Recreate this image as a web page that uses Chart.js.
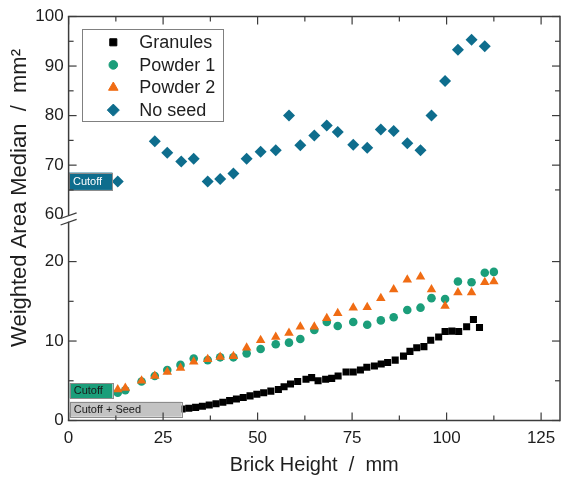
<!DOCTYPE html>
<html><head><meta charset="utf-8">
<script src="https://cdn.jsdelivr.net/npm/chart.js@4/dist/chart.umd.min.js"></script>
<style>html,body{margin:0;padding:0;background:#fff;}#wrap{width:566px;height:477px;}</style>
</head><body><div id="wrap"><canvas id="c" width="566" height="477"></canvas></div>
<script>
// ---- data ----
const xTicks = [0, 25, 50, 75, 100, 125];
const xMinor = [12.5, 37.5, 62.5, 87.5, 112.5];
const yLowTicks = [0, 10, 20];
const yLowMinor = [5, 15];
const yHighTicks = [60, 70, 80, 90, 100];
const yHighMinor = [65, 75, 85, 95];
const seriesNames = ['Granules', 'Powder 1', 'Powder 2', 'No seed'];

const granulesX = [30.0, 31.8, 33.6, 35.4, 37.2, 39.0, 40.8, 42.6, 44.4, 46.2, 48.0, 49.8, 51.6, 53.5, 55.5, 57.0, 58.7, 60.6, 62.8, 64.3, 66.0, 68.0, 69.6, 71.3, 73.4, 75.3, 77.2, 78.9, 80.9, 82.7, 84.4, 86.4, 88.6, 90.3, 92.1, 94.0, 95.8, 97.9, 99.6, 101.4, 103.2, 105.3, 107.1, 108.7];
const granulesY = [1.45, 1.55, 1.65, 1.8, 1.95, 2.1, 2.3, 2.5, 2.7, 2.9, 3.1, 3.3, 3.5, 3.7, 3.9, 4.25, 4.6, 4.9, 5.2, 5.4, 5.0, 5.2, 5.3, 5.6, 6.1, 6.1, 6.35, 6.7, 6.85, 7.1, 7.3, 7.6, 8.1, 8.7, 9.15, 9.3, 10.1, 10.5, 11.2, 11.25, 11.2, 11.8, 12.7, 11.7];

const powderX = [13.0, 15.0, 19.3, 22.8, 26.1, 29.6, 33.1, 36.8, 40.1, 43.6, 47.1, 50.8, 54.8, 58.3, 61.3, 65.0, 68.3, 71.2, 75.3, 79.0, 82.6, 86.0, 89.6, 93.1, 96.0, 99.6, 103.0, 106.6, 110.1, 112.5];
const powder1Y = [3.5, 3.8, 4.9, 5.6, 6.35, 7.0, 7.8, 7.6, 7.95, 7.95, 8.45, 9.0, 9.6, 9.8, 10.25, 11.4, 12.4, 11.9, 12.4, 12.05, 12.6, 13.0, 13.9, 14.2, 15.4, 15.3, 17.5, 17.4, 18.6, 18.7];
const powder2Y = [3.9, 4.1, 5.0, 5.6, 6.1, 6.6, 7.4, 7.7, 8.0, 8.1, 9.15, 10.1, 10.5, 11.0, 11.8, 11.8, 12.86, 13.5, 14.2, 14.25, 15.4, 16.5, 17.7, 18.1, 16.5, 14.4, 16.1, 16.1, 17.4, 17.5];

const noSeedX = [13.0, 22.8, 26.1, 29.8, 33.1, 36.8, 40.1, 43.6, 47.1, 50.8, 54.8, 58.3, 61.3, 65.0, 68.3, 71.2, 75.3, 79.0, 82.6, 86.0, 89.6, 93.1, 96.0, 99.6, 103.0, 106.6, 110.1];
const noSeedY = [66.7, 74.8, 72.5, 70.75, 71.3, 66.7, 67.2, 68.3, 71.3, 72.7, 73.0, 80.0, 74.0, 76.0, 78.0, 76.7, 74.1, 73.5, 77.2, 76.9, 74.4, 73.0, 80.0, 87.0, 93.3, 95.3, 94.0];

// ---- styles ----
const COL = {gran: '#000000', p1: '#1b9e7a', p2: '#f06c14', ns: '#0e6d8d', axis: '#3c3c3c', text: '#1e1e1e'};
const FONT = '"Liberation Sans", Arial, sans-serif';
Chart.defaults.font.family = FONT;
Chart.defaults.color = COL.text;

const pts = (xs, ys) => xs.map((x, i) => ({x, y: ys[i]}));

const annotations = [
  {text: 'Cutoff', axis: 'yHigh', x0: 0.1, x1: 11.6, y0: 68.5, y1: 65.0, fill: COL.ns, color: '#ffffff'},
  {text: 'Cutoff', axis: 'yLow', x0: 0.3, x1: 11.6, y0: 4.7, y1: 2.8, fill: COL.p1, color: '#1a1a1a'},
  {text: 'Cutoff + Seed', axis: 'yLow', x0: 0.3, x1: 29.9, y0: 2.36, y1: 0.48, fill: '#c3c3c3', color: '#1a1a1a'}
];

function drawMarker(ctx, style, x, y, r, color) {
  ctx.save();
  ctx.fillStyle = color; ctx.strokeStyle = color; ctx.lineWidth = 1;
  if (Chart.helpers && Chart.helpers.drawPoint) {
    Chart.helpers.drawPoint(ctx, {pointStyle: style, radius: r, rotation: 0, borderWidth: 1}, x, y);
  }
  ctx.restore();
}

const framePlugin = {
  id: 'frame',
  afterDatasetsDraw(chart) {
    const ctx = chart.ctx, a = chart.chartArea;
    const sx = chart.scales.x, sl = chart.scales.yLow, sh = chart.scales.yHigh;
    const L = a.left, R = a.right, T = a.top, B = a.bottom;
    ctx.save();
    // annotation boxes
    ctx.font = '11px ' + FONT;
    ctx.textBaseline = 'middle';
    ctx.textAlign = 'left';
    annotations.forEach(an => {
      const s = an.axis === 'yLow' ? sl : sh;
      const x0 = sx.getPixelForValue(an.x0), x1 = sx.getPixelForValue(an.x1);
      const y0 = s.getPixelForValue(an.y0), y1 = s.getPixelForValue(an.y1);
      ctx.fillStyle = an.fill;
      ctx.fillRect(x0, y0, x1 - x0, y1 - y0);
      ctx.strokeStyle = '#8c8c8c'; ctx.lineWidth = 1;
      ctx.strokeRect(Math.round(x0) + 0.5, Math.round(y0) + 0.5, Math.round(x1 - x0), Math.round(y1 - y0));
      ctx.fillStyle = an.color;
      ctx.fillText(an.text, x0 + 4, (y0 + y1) / 2 + 0.5);
    });
    // frame
    const brk = sh.getPixelForValue(60);
    ctx.strokeStyle = COL.axis; ctx.lineWidth = 1.5; ctx.lineCap = 'butt';
    const line = (x1, y1, x2, y2) => { ctx.beginPath(); ctx.moveTo(x1, y1); ctx.lineTo(x2, y2); ctx.stroke(); };
    line(L, T, L, brk + 1);
    line(L, brk + 7, L, B);
    line(L - 0.75, B, R, B);
    line(L - 0.75, T, R, T);
    line(R, T - 0.75, R, B + 0.75);
    // break marks
    ctx.lineWidth = 1.2;
    line(L - 8, brk + 3.8, L + 8, brk - 1.8);
    line(L - 8, brk + 10.3, L + 8, brk + 4.7);
    // ticks
    ctx.lineWidth = 1.2;
    const MJ = 8, MN = 5;
    xTicks.forEach(v => { const p = sx.getPixelForValue(v); line(p, B, p, B - MJ); line(p, T, p, T + MJ); });
    xMinor.forEach(v => { const p = sx.getPixelForValue(v); line(p, B, p, B - MN); line(p, T, p, T + MN); });
    const yt = (s, vals, len) => vals.forEach(v => { const p = s.getPixelForValue(v); line(L, p, L + len, p); line(R, p, R - len, p); });
    yt(sl, yLowTicks, MJ); yt(sl, yLowMinor, MN);
    yt(sh, yHighTicks.filter(v => v !== 60), MJ); yt(sh, yHighMinor, MN);
    // y title
    ctx.save();
    ctx.translate(20, 198);
    ctx.rotate(-Math.PI / 2);
    ctx.font = '22px ' + FONT;
    ctx.fillStyle = COL.text;
    ctx.textAlign = 'center';
    ctx.textBaseline = 'middle';
    ctx.fillText('Weighted Area Median  /  mm\u00B2', 0, 0);
    ctx.restore();
    // legend
    const lg = {x: 82.5, y: 29.5, w: 141, h: 92};
    ctx.fillStyle = '#ffffff';
    ctx.fillRect(lg.x, lg.y, lg.w, lg.h);
    ctx.strokeStyle = '#808080'; ctx.lineWidth = 1;
    ctx.strokeRect(lg.x, lg.y, lg.w, lg.h);
    ctx.font = '18px ' + FONT;
    ctx.textAlign = 'left'; ctx.textBaseline = 'middle';
    chart.data.datasets.forEach((ds, i) => {
      const yy = 42.3 + i * 22.6;
      drawMarker(ctx, ds.pointStyle, 113.3, yy, ds.pointRadius, ds.backgroundColor);
      ctx.fillStyle = COL.text;
      ctx.fillText(ds.label, 139.3, yy + 1);
    });
    ctx.restore();
  }
};

new Chart(document.getElementById('c'), {
  type: 'scatter',
  data: {
    datasets: [
      {label: seriesNames[0], data: pts(granulesX, granulesY), yAxisID: 'yLow', pointStyle: 'rect', pointRadius: 5, backgroundColor: COL.gran, borderColor: COL.gran, borderWidth: 0, order: 0},
      {label: seriesNames[1], data: pts(powderX, powder1Y), yAxisID: 'yLow', pointStyle: 'circle', pointRadius: 4.3, backgroundColor: COL.p1, borderColor: COL.p1, borderWidth: 0, order: 2},
      {label: seriesNames[2], data: pts(powderX, powder2Y), yAxisID: 'yLow', pointStyle: 'triangle', pointRadius: 5.5, backgroundColor: COL.p2, borderColor: COL.p2, borderWidth: 0, order: 1},
      {label: seriesNames[3], data: pts(noSeedX, noSeedY), yAxisID: 'yHigh', pointStyle: 'rectRot', pointRadius: 6, backgroundColor: COL.ns, borderColor: COL.ns, borderWidth: 0, order: 3}
    ]
  },
  options: {
    responsive: false, animation: false, devicePixelRatio: 1,
    layout: {padding: {top: 16.5, right: 0.5, left: 0, bottom: 0}},
    plugins: {legend: {display: false}, tooltip: {enabled: false}},
    scales: {
      x: {
        type: 'linear', position: 'bottom', min: 0, max: 130,
        grid: {display: false, drawTicks: false}, border: {display: false},
        afterBuildTicks: s => { s.ticks = xTicks.map(v => ({value: v})); },
        afterFit: s => { s.height = 56.5; },
        ticks: {font: {size: 17}, padding: 8, color: COL.text, maxRotation: 0, autoSkip: false},
        title: {display: true, text: 'Brick Height  /  mm', font: {size: 20}, color: COL.text, padding: {top: 0, bottom: 0}}
      },
      yLow: {
        type: 'linear', position: 'left', stack: 'y', stackWeight: 205.8, min: 0, max: 25.9,
        grid: {display: false, drawTicks: false}, border: {display: false},
        afterBuildTicks: s => { s.ticks = yLowTicks.map(v => ({value: v})); },
        afterFit: s => { s.width = 68.6; },
        ticks: {font: {size: 17}, padding: 5, color: COL.text, autoSkip: false}
      },
      yHigh: {
        type: 'linear', position: 'left', stack: 'y', stackWeight: 198.2, min: 60, max: 100,
        grid: {display: false, drawTicks: false}, border: {display: false},
        afterBuildTicks: s => { s.ticks = yHighTicks.map(v => ({value: v})); },
        afterFit: s => { s.width = 68.6; },
        ticks: {font: {size: 17}, padding: 5, color: COL.text, autoSkip: false}
      }
    }
  },
  plugins: [framePlugin]
});
</script>
</body></html>
